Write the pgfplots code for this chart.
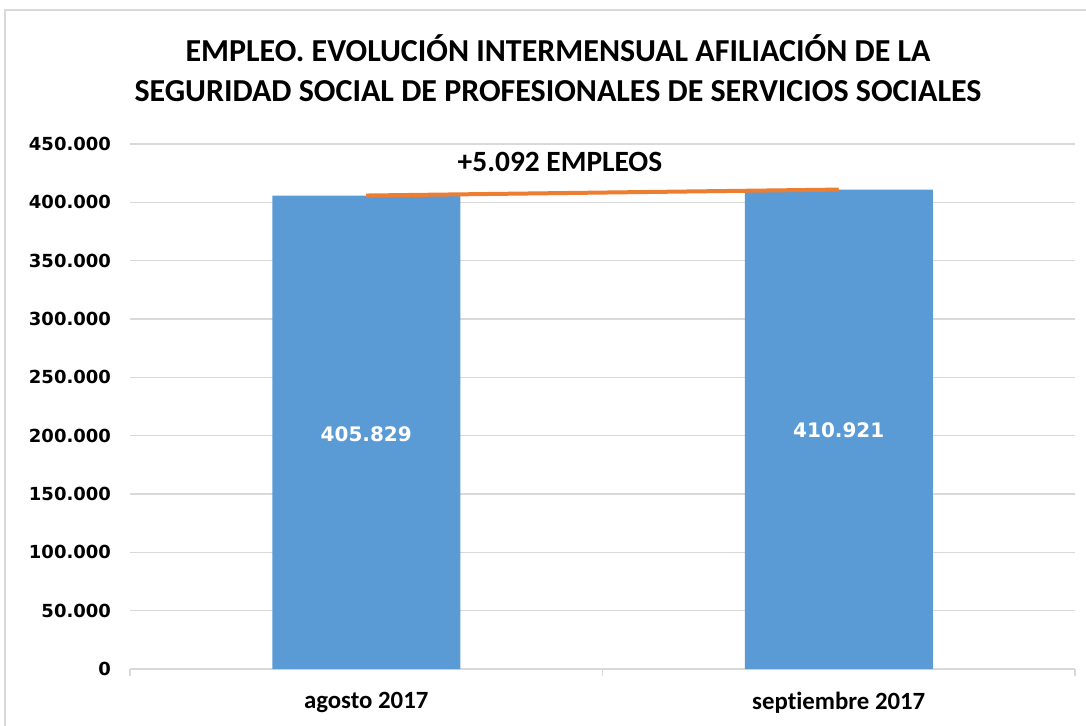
\documentclass[border=0pt]{standalone}
\usepackage{fontspec}
\setmainfont{Carlito}[Ligatures={NoCommon}]
\newfontfamily\dejavu{DejaVu Sans}
\usepackage{pgfplots}
\pgfplotsset{compat=1.18}
\definecolor{barblue}{HTML}{5B9BD5}
\definecolor{lineorange}{HTML}{ED7D31}
\definecolor{gridgray}{HTML}{D9D9D9}
\begin{document}
\begin{tikzpicture}
% 1 px of the reference = 0.5pt, origin at the top left
\useasboundingbox (0,0) rectangle (543pt,-363pt);
\draw[gridgray, line width=1pt] (2.5pt,-363pt) -- (2.5pt,-5pt) -- (543pt,-5pt);
\node[font=\bfseries\fontsize{16}{20}\selectfont, align=center] at (279pt,-34pt)
  {EMPLEO. EVOLUCIÓN INTERMENSUAL AFILIACIÓN DE LA\\SEGURIDAD SOCIAL DE PROFESIONALES DE SERVICIOS SOCIALES};
\begin{axis}[
  at={(65pt,-334.5pt)}, anchor=south west,
  scale only axis, width=472.5pt, height=262.5pt,
  xmin=-0.5, xmax=1.5, ymin=0, ymax=450000,
  xtick={0,1}, xticklabels={agosto 2017, septiembre 2017},
  minor xtick={-0.5,0.5,1.5},
  major tick length=0pt, minor tick length=3.5pt,
  tick align=outside,
  ytick={0,50000,...,450000},
  scaled y ticks=false,
  ymajorgrids, grid style={gridgray, line width=0.6pt},
  axis x line*=bottom, axis y line*=left,
  y axis line style={draw=none},
  x axis line style={gridgray, line width=0.6pt, -},
  every minor tick/.style={gridgray, line width=0.6pt},
  xticklabel style={font=\bfseries\fontsize{12.4}{14}\selectfont, yshift=-8pt},
  yticklabel style={font=\dejavu\bfseries\fontsize{9}{11}\selectfont, xshift=-6pt},
  /pgf/number format/.cd, fixed, 1000 sep={.}, assume math mode=true,
]
\addplot[ybar, bar width=94pt, fill=barblue, draw=none] coordinates {(0,405829) (1,410921)};
\addplot[lineorange, line width=2pt, mark=none] coordinates {(0,405829) (1,410921)};
\node[white, font=\dejavu\bfseries\fontsize{10}{12}\selectfont] at (axis cs:0,201000) {405.829};
\node[white, font=\dejavu\bfseries\fontsize{10}{12}\selectfont] at (axis cs:1,204500) {410.921};
\node[font=\bfseries\fontsize{14.7}{16}\selectfont] at (axis cs:0.41,434600) {+5.092 EMPLEOS};
\end{axis}
\end{tikzpicture}
\end{document}
